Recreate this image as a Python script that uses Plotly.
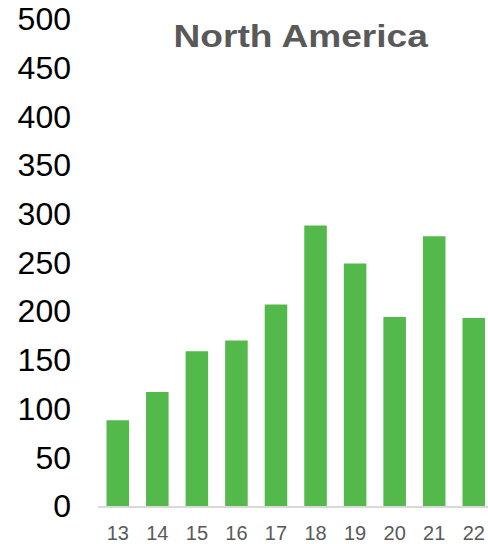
import plotly.graph_objects as go

# Annual values for North America, by two-digit year
years = ["13", "14", "15", "16", "17", "18", "19", "20", "21", "22"]
values = [88, 117, 159, 170, 207, 288, 249, 194, 277, 193]
y_ticks = [0, 50, 100, 150, 200, 250, 300, 350, 400, 450, 500]

bar_color = "#52b94a"
text_gray = "#595959"

fig = go.Figure(
    go.Bar(
        x=years,
        y=values,
        marker=dict(color=bar_color, line=dict(width=0)),
        width=0.57,
    )
)

fig.update_layout(
    width=488,
    height=544,
    margin=dict(l=97.5, r=0, t=19, b=37.5),
    paper_bgcolor="white",
    plot_bgcolor="white",
    showlegend=False,
    title=dict(
        text="<b>North America</b>",
        font=dict(family="Liberation Sans, Arial, sans-serif", size=32, color=text_gray),
        xref="paper",
        x=0.52,
        xanchor="center",
        yref="container",
        y=1 - 36 / 544,
        yanchor="middle",
    ),
    xaxis=dict(
        type="category",
        range=[-0.5, 9.36],
        showgrid=False,
        showline=True,
        linecolor="#d9d9d9",
        linewidth=2,
        ticks="",
        tickfont=dict(family="Liberation Sans, Arial, sans-serif", size=20, color=text_gray),
        ticklabelstandoff=8,
        fixedrange=True,
    ),
    yaxis=dict(
        range=[0, 500],
        tickvals=y_ticks,
        showgrid=False,
        zeroline=False,
        showline=False,
        ticks="",
        tickfont=dict(family="Liberation Sans, Arial, sans-serif", size=32, color="black"),
        ticklabelstandoff=26,
        fixedrange=True,
    ),
)

# The title is set in a horizontally widened face
widen_js = (
    "document.querySelectorAll('.gtitle').forEach(function(t){"
    "t.style.transformBox='fill-box';"
    "t.style.transformOrigin='center';"
    "t.style.transform='scaleX(1.16)';});"
)

fig.write_html("out.html", config={"displayModeBar": False}, post_script=widen_js)
